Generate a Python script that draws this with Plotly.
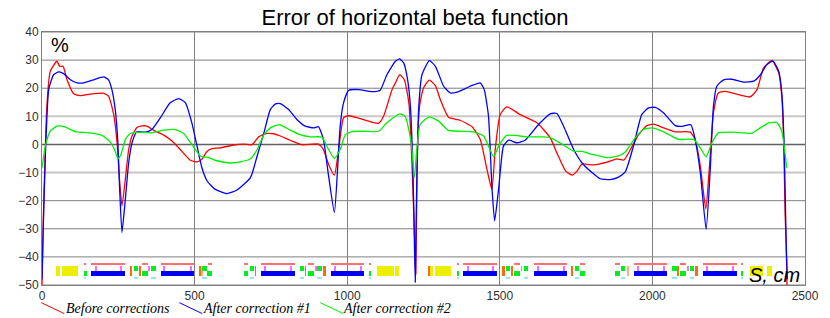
import plotly.graph_objects as go

TITLE = "Error of horizontal beta function"
X_TICKS = [0, 500, 1000, 1500, 2000, 2500]
Y_TICKS = [-50, -40, -30, -20, -10, 0, 10, 20, 30, 40]
LEGEND_NAMES = ["Before corrections", "After correction #1", "After correction #2"]

RED_S = [0,5,16,27,49,58,69,82,104,126,158,202,218,235,246,254,262,273,284,295,311,328,344,366,399,426,453,486,508,524,541,557,584,628,661,688,710,737,759,781,813,851,906,922,939,958,972,988,1005,1043,1103,1119,1147,1158,1172,1187,1202,1209,1218,1221,1225,1229,1237,1250,1269,1289,1305,1332,1370,1409,1436,1458,1474,1485,1501,1523,1567,1622,1665,1687,1716,1738,1753,1769,1807,1851,1884,1906,1928,1955,1982,2004,2037,2075,2124,2140,2157,2175,2187,2200,2216,2238,2320,2343,2364,2392,2414,2424,2430,2435,2438,2441]
RED_V = [-50,-24,13.6,26,29.6,27.8,27.8,23,18,17.4,17.9,18.2,17.2,10.6,0.6,-12.4,-21.9,-12.4,-1.8,3,6,6.6,6.5,5,3.3,1.2,-1.8,-5.6,-6.2,-5.3,-2.4,-1.5,-1.2,-0.2,0.1,-0.1,2.7,3.9,3.8,3,1.5,-0.1,0.1,-1.8,-7.1,-10.9,-1.8,9.5,10.2,9.2,7.5,10,19.5,21.9,24.8,23.1,14.8,1.8,-24,-33.7,-46,-7.7,13.6,20.1,22.9,20.9,16,9.7,8.6,6.3,1.8,-8.9,-16,-1.8,10.6,13.4,10.6,7.7,2.4,-3,-9.5,-10.9,-9.5,-7,-7.3,-6.3,-5.1,-5.6,-1.8,3.5,6.7,7.2,5.9,4.5,4.4,1.8,-7.7,-23,-7.7,11.2,18.3,18.9,16.9,19.5,27.2,29.9,25.4,17,1.8,-25.4,-34,-50]

BLUE_S = [0,3,11,22,38,55,71,93,115,137,169,202,218,229,240,248,254,262,273,284,295,311,339,360,388,420,448,470,491,508,524,541,568,606,639,683,705,727,748,765,781,808,835,863,890,906,922,939,958,969,977,988,1005,1038,1082,1108,1130,1158,1172,1185,1198,1207,1215,1220,1223,1227,1234,1245,1269,1289,1316,1338,1360,1403,1436,1449,1463,1474,1483,1496,1512,1529,1556,1583,1627,1665,1687,1709,1742,1769,1802,1829,1862,1889,1911,1938,1965,1987,2009,2037,2075,2097,2126,2140,2157,2176,2189,2200,2211,2233,2260,2298,2332,2354,2375,2395,2414,2424,2432,2438,2442]
BLUE_V = [-48,-33.7,-4.1,19.5,24.8,25.8,25.2,23,21.9,21.9,23,24,23,19.5,12.4,1.8,-14.8,-31.3,-19.5,-6.5,0.6,4.5,4.4,5.3,9.5,14.8,16.3,14.8,7.7,-0.6,-8.3,-13,-16,-17.5,-16.2,-11.8,-4.1,4.1,12.4,14.4,14.5,12.4,8.9,6.5,5.9,6.3,1.8,-11.2,-24.2,-7.7,6.5,14.8,19.3,19.5,18.8,19.3,24.8,29.6,30.4,29,23,13.6,-7.7,-33.7,-49,-19.5,12.4,24.8,29.8,27.8,20.7,18.3,18.6,20.7,21.9,19.5,10,-14.8,-27.2,-16,-0.6,1.5,0.6,1.5,7.1,10.9,11,6.5,-1.8,-6.5,-10,-12.2,-12.5,-11.6,-9.8,-0.6,10.6,13,13.2,11.2,6.7,6.4,7,1.8,-10,-30.2,-10,13.6,20.7,23,23.2,22.2,22.5,24.8,28.4,29.6,26,18.3,-1.8,-33.7,-48]

GREEN_S = [0,11,27,49,71,109,158,197,224,240,249,259,273,289,322,355,399,437,464,491,519,546,573,617,650,683,705,727,748,770,781,813,846,879,917,933,958,977,994,1016,1054,1103,1130,1172,1190,1204,1212,1220,1229,1239,1269,1300,1332,1414,1447,1463,1480,1496,1523,1589,1643,1665,1709,1742,1769,1802,1851,1889,1911,1944,1971,1998,2037,2086,2135,2157,2176,2195,2216,2266,2326,2353,2381,2408,2424,2440]
GREEN_V = [-8.3,-0.6,4.7,6.5,6.4,4.6,4.1,3.2,0.8,-2.4,-5.1,-3.5,1.8,3.9,4.4,4.1,5.1,5.3,3.9,0,-4.1,-4.7,-5.8,-6.6,-6.2,-5.1,-1.8,3.5,5.9,6.9,7,5.1,3.5,2.7,2.6,-0.6,-5,-1.8,3.5,4.6,4.7,4.7,7.7,10.9,10,4.1,-1.8,-11.8,-0.6,7.1,9.8,8.3,5,4.5,3,-0.6,-4.4,-0.6,3.2,2.7,2.7,2.4,-0.2,-2.4,-2.5,-3.5,-4.7,-4.1,-2.7,2.4,5.3,5.9,4.5,1.8,1.8,-1.2,-4.4,0.6,4.1,4.4,4,5.9,7.7,7.8,4.7,-8.3]

# lattice strip: (start, end) along S
YELLOW = [(47,60),(67,119),(1099,1152),(1158,1171),(1272,1280),(1287,1340),(2319,2362),(2376,2392)]
ORANGE = [(287,296),(515,523),(921,929),(1266,1272),(1507,1517),(1736,1741),(2141,2150),(319,322),(698,700),(863,865),(1538,1540),(2082,2084)]
PALE_ORANGE = [(1917,1924),(523,527)]
SALMON = [(139,145),(162,272),(329,347),(391,499),(543,558),(661,675),(719,829),(870,891),(948,1056),(1072,1078),(1362,1367),(1381,1492),(1545,1567),(1611,1721),(1764,1779),(1879,1893),(1939,2048),(2091,2111),(2165,2277),(2292,2298)]
BLUE_EL = [(162,272),(391,499),(719,829),(948,1056),(1381,1492),(1611,1721),(1939,2048),(2165,2277)]
PINK_AT = [176,259,352,401,487,731,815,897,960,1045,1395,1479,1571,1624,1709,1952,2037,2117,2178,2264]
GREEN_UP = [(302,316),(358,373),(525,539),(680,695),(846,859),(902,916),(1521,1534),(1578,1593),(1745,1758),(1898,1911),(2065,2080),(2122,2136)]
GREEN_LOW = [(139,146),(329,347),(542,558),(661,675),(870,891),(1072,1079),(1362,1367),(1545,1567),(1764,1779),(1879,1893),(2091,2111),(2292,2298)]
CYAN_LOW = GREEN_UP + [(139,145),(1072,1078),(1362,1367),(2292,2298)]

fig = go.Figure()


def strip(segments, low, high, color):
    fig.add_trace(go.Bar(
        orientation="h",
        y=[(low + high) / 2] * len(segments),
        x=[b - a for a, b in segments],
        base=[a for a, b in segments],
        width=high - low,
        marker=dict(color=color, line=dict(width=0)),
        showlegend=False, hoverinfo="skip",
    ))


strip(YELLOW, -46.8, -43.4, "#eeee00")
strip(ORANGE, -46.8, -43.4, "#ff6a10")
strip(PALE_ORANGE, -46.8, -43.4, "#ffb080")
strip(SALMON, -42.7, -42.1, "#ff7070")
strip(BLUE_EL, -46.8, -45.1, "#0000f0")
strip([(s - 1.5, s + 1.5) for s in PINK_AT], -45.1, -43.4, "#f070f0")
strip(GREEN_UP, -45.1, -43.4, "#00ee20")
strip(GREEN_LOW, -46.8, -45.1, "#00ee20")
strip(CYAN_LOW, -47.8, -47.4, "#90e8f0")

for s, v, c in [(RED_S, RED_V, "#ff0000"), (BLUE_S, BLUE_V, "#0000ff"), (GREEN_S, GREEN_V, "#00f000")]:
    fig.add_trace(go.Scatter(x=s, y=v, mode="lines", showlegend=False, hoverinfo="skip",
                             line=dict(color=c, width=1.3, shape="spline", smoothing=0.5)))

grid = "#808080"
# horizontal rules at each y tick; +-10 and 0 are emphasised
for level in Y_TICKS:
    if level in (10, -10):
        col, w = "#c8c8c8", 2
    elif level == 0:
        col, w = "#606060", 1.5
    else:
        col, w = grid, 1
    fig.add_shape(type="line", xref="paper", x0=0, x1=1, yref="y", y0=level, y1=level,
                  line=dict(color=col, width=w), layer="below")

# legend samples and labels
LEG_X = [41, 179, 320]
LEG_TX = [64, 201, 341]
LEG_C = ["#ff0000", "#0000ff", "#00f000"]
W, H = 830, 318
L, R, T, B = 41.7, 25.3, 31.7, 32.7
pw, ph = W - L - R, H - T - B
px = lambda v: (v - L) / pw
py = lambda v: (H - B - v) / ph
for x0, tx, c, name in zip(LEG_X, LEG_TX, LEG_C, LEGEND_NAMES):
    fig.add_shape(type="line", xref="paper", yref="paper", x0=px(x0), x1=px(x0 + 23),
                  y0=py(303), y1=py(314), line=dict(color=c, width=1))
    fig.add_annotation(xref="paper", yref="paper", x=px(tx), y=py(308.5), text=f"<i>{name}</i>", showarrow=False,
                       xanchor="left", yanchor="middle",
                       font=dict(family="Liberation Serif", size=14, color="#000"))

fig.add_annotation(xref="paper", yref="paper", x=px(49), y=py(45), text="%", showarrow=False,
                   xanchor="left", yanchor="middle",
                   font=dict(family="Liberation Sans", size=20, color="#000"))
fig.add_annotation(xref="paper", yref="paper", x=px(747), y=py(275), text="<i>S, cm</i>", showarrow=False,
                   xanchor="left", yanchor="middle",
                   font=dict(family="Liberation Sans", size=20, color="#000"))

fig.update_layout(
    width=W, height=H, margin=dict(l=L, r=R, t=T, b=B, pad=0),
    paper_bgcolor="white", plot_bgcolor="white", barmode="overlay", bargap=0,
    showlegend=False, hovermode=False,
    title=dict(text=TITLE, x=415 / W, xanchor="center", y=1 - 17 / H, yanchor="middle",
               font=dict(family="Liberation Sans", size=22, color="#000")),
    font=dict(family="Liberation Sans", size=12, color="#303030"),
    xaxis=dict(range=[0, 2500], tickvals=X_TICKS, showgrid=True, gridcolor=grid, gridwidth=1,
               zeroline=False, showline=True, linecolor=grid, linewidth=1, mirror=True, ticks="", ticklen=0),
    yaxis=dict(range=[-50, 40], tickvals=Y_TICKS, showgrid=False,
               zeroline=False, showline=True, linecolor=grid, linewidth=1, mirror=True, ticks="", ticklen=0),
)
fig.write_html("out.html", config=dict(displayModeBar=False),
               post_script="document.body.style.margin='0';document.body.style.overflow='hidden';")
